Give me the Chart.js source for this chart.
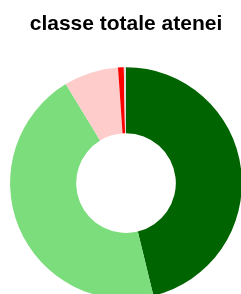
<!DOCTYPE html>
<html>
<head>
<meta charset="utf-8">
<script src="https://cdn.jsdelivr.net/npm/chart.js@4/dist/chart.umd.min.js"></script>
<style>
    html, body { margin: 0; padding: 0; background: #fff; overflow: hidden; }
    #wrap { position: relative; width: 252px; height: 299px; }
</style>
</head>
<body>
<div id="wrap"><canvas id="chart"></canvas></div>
<script>
const labels = ['A', 'B', 'C', 'D', 'E'];
const values = [46.2, 45.1, 7.6, 0.8, 0.3];
const colors = ['#006400', '#7cdd7c', '#ffcccc', '#ff0000', '#dddddd'];
const titleText = 'classe totale atenei';

const config = {
    type: 'doughnut',
    data: {
        labels: labels,
        datasets: [{
            data: values,
            backgroundColor: colors,
            borderWidth: 0
        }]
    },
    options: {
        responsive: true,
        maintainAspectRatio: false,
        animation: false,
        cutout: '43%',
        layout: { padding: 0 },
        plugins: {
            legend: { display: false },
            tooltip: { enabled: false },
            title: {
                display: true,
                text: titleText,
                color: '#000',
                font: { family: 'Liberation Sans, Arial, sans-serif', size: 21, weight: 'bold' },
                padding: { top: 12, bottom: 30 }
            }
        }
    }
};

new Chart(document.getElementById('chart'), config);
</script>
</body>
</html>
